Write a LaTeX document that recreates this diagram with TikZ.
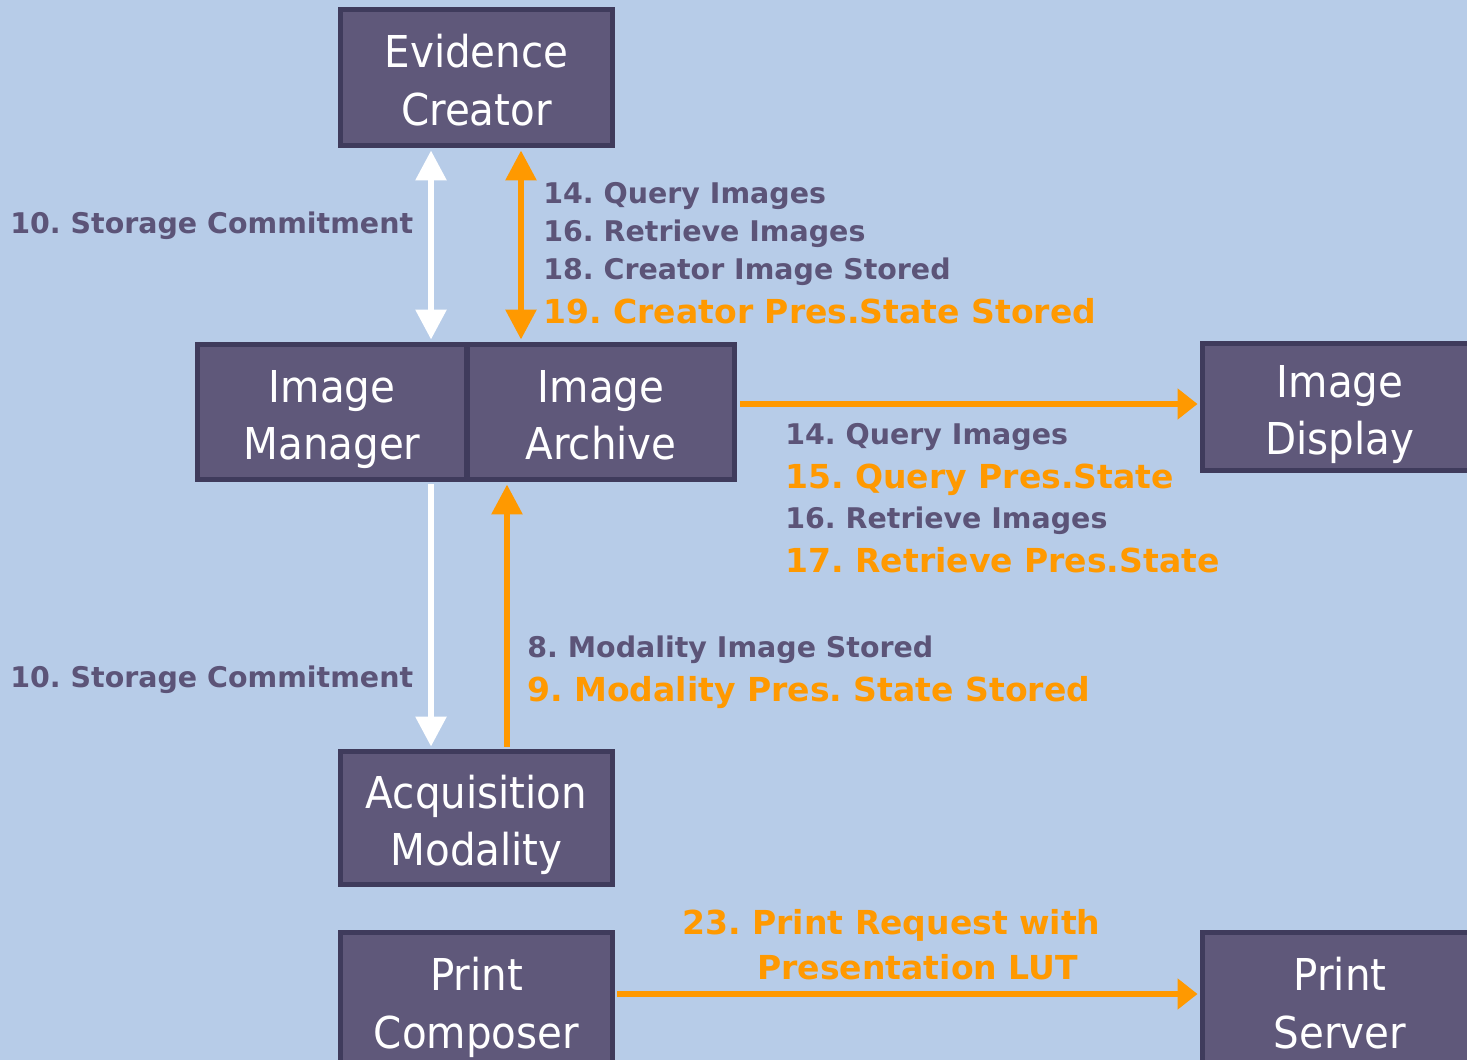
\documentclass[tikz,border=0pt]{standalone}
\usepackage{fontspec}
\setmainfont{DejaVu Sans}
\newfontfamily\actorfont[FakeStretch=0.92]{DejaVu Sans}
\usetikzlibrary{arrows.meta}
\frenchspacing

\definecolor{bg}{HTML}{B7CCE8}
\definecolor{boxfill}{HTML}{5F587A}
\definecolor{boxline}{HTML}{3F3B5C}
\definecolor{msggray}{HTML}{5C5478}
\definecolor{flow}{HTML}{FF9900}

\tikzset{
  actor/.style={draw=boxline, fill=boxfill, line width=0.1cm, text=white, align=center,
    minimum width=5.44cm, minimum height=2.72cm, inner sep=0pt,
    font=\actorfont\fontsize{25}{33}\selectfont, text height=1.92cm, text depth=0pt},
  msg/.style={anchor=base west, inner sep=0pt, text=msggray, font=\fontsize{16.2}{20}\selectfont\bfseries},
  newmsg/.style={msg, text=flow, font=\fontsize{18.8}{25.6}\selectfont\bfseries},
  wline/.style={draw=white, line width=0.12cm, shorten <=0.05cm, shorten >=0.05cm},
  oline/.style={draw=flow, line width=0.12cm, shorten <=0.05cm, shorten >=0.05cm},
  headv/.style={-{Triangle[length=0.6cm,width=0.6cm]}},
  bothv/.style={{Triangle[length=0.6cm,width=0.6cm]}-{Triangle[length=0.6cm,width=0.6cm]}},
  headh/.style={-{Triangle[length=0.4cm,width=0.6cm]}}
}

\begin{document}
\begin{tikzpicture}[x=0.02cm, y=-0.02cm]
  \clip (0,0) rectangle (1467,1060);
  \fill[bg] (0,0) rectangle (1467,1060);

  %actors
  \node[actor] (ec) at (476.5,77.5) {Evidence\\Creator};
  \node[actor, minimum width=5.4cm, minimum height=2.7cm] (im) at (332,412) {Image\\Manager};
  \node[actor, minimum width=5.36cm, minimum height=2.7cm] (ia) at (601,412) {Image\\Archive};
  \node[actor, minimum width=5.5cm, minimum height=2.54cm] (id) at (1340,407) {Image\\Display};
  \node[actor, minimum height=2.66cm] (am) at (476.5,818) {Acquisition\\Modality};
  \node[actor] (pc) at (476.5,1000.5) {Print\\Composer};
  \node[actor, minimum width=5.5cm] (ps) at (1340,1000.5) {Print\\Server};

  %transactions
  \draw[wline, bothv] ([xshift=-0.91cm]ec.south) -- ([xshift=-0.91cm]ec.south |- im.north);
  \draw[oline, bothv] ([xshift=0.89cm]ec.south) -- ([xshift=0.89cm]ec.south |- ia.north);
  \draw[wline, headv] ([xshift=-0.91cm]am.north |- im.south) -- ([xshift=-0.91cm]am.north);
  \draw[oline, headv] ([xshift=0.61cm]am.north) -- ([xshift=0.61cm]am.north |- ia.south);
  \draw[oline, headh] ([yshift=0.16cm]ia.east) -- ([yshift=0.16cm]ia.east -| id.west);
  \draw[oline, headh] ([yshift=0.13cm]pc.east) -- ([yshift=0.13cm]pc.east -| ps.west);

  %labels
  \node[msg] (sc1) at (10,234) {10. Storage Commitment};
  \node[msg] (sc2) at (10,687) {10. Storage Commitment};
  \node[msg] (qa) at (543,204) {14. Query Images};
  \node[msg] (ra) at (543,242) {16. Retrieve Images};
  \node[msg] (cis) at (543,280) {18. Creator Image Stored};
  \node[newmsg] (cps) at (543,324) {19. Creator Pres.State Stored};
  \node[msg] (qb) at (785,445) {14. Query Images};
  \node[newmsg] (qp) at (785,489) {15. Query Pres.State};
  \node[msg] (rb) at (785,528) {16. Retrieve Images};
  \node[newmsg] (rp) at (785,572) {17. Retrieve Pres.State};
  \node[msg] (mis) at (527,657) {8. Modality Image Stored};
  \node[newmsg] (mps) at (527,701) {9. Modality Pres. State Stored};
  \node[newmsg, align=left] (pr) at (682,979) {23. Print Request with\\\hspace*{1.5cm}Presentation LUT};
\end{tikzpicture}
\end{document}
